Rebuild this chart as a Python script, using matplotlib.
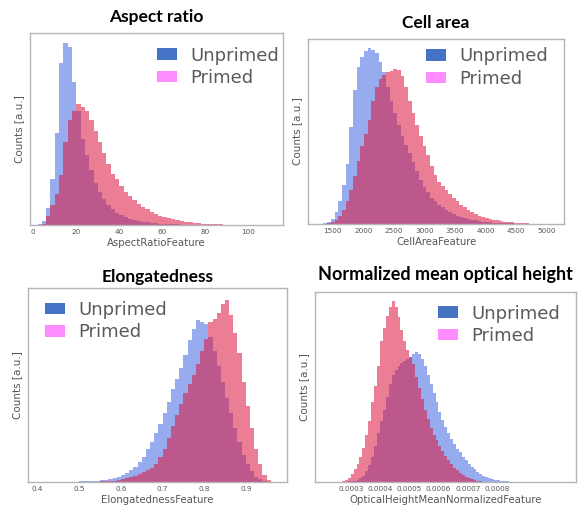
import numpy as np
import matplotlib
matplotlib.use("Agg")
import matplotlib.pyplot as plt
from matplotlib.patches import Patch
from matplotlib.ticker import FormatStrFormatter

# Histogram heights (normalised counts)
# -------------------------------------------------------------------
aspect_start, aspect_width = 2, 2
aspect_unprimed = [0.003, 0.02, 0.09, 0.25, 0.50, 0.88, 0.99, 0.97, 0.78, 0.62,
                   0.47, 0.38, 0.30, 0.23, 0.18, 0.14, 0.11, 0.085, 0.066, 0.052,
                   0.042, 0.034, 0.027, 0.022, 0.018, 0.014, 0.011, 0.009, 0.007, 0.0055,
                   0.0045, 0.0035, 0.003, 0.0025, 0.002, 0.0015, 0.0012, 0.001, 0.0008, 0.0006,
                   0.0005, 0.0004, 0.0003, 0.0002, 0.0002, 0.0001, 0.0001, 0.0, 0.0]
aspect_primed = [0.0, 0.005, 0.05, 0.11, 0.17, 0.27, 0.45, 0.57, 0.62, 0.66,
                 0.64, 0.62, 0.57, 0.51, 0.45, 0.39, 0.33, 0.28, 0.25, 0.21,
                 0.18, 0.16, 0.135, 0.115, 0.10, 0.085, 0.07, 0.06, 0.05, 0.043,
                 0.036, 0.03, 0.025, 0.021, 0.018, 0.015, 0.012, 0.01, 0.008, 0.006,
                 0.005, 0.004, 0.003, 0.002, 0.0015, 0.001, 0.001, 0.0005, 0.0005]

area_start, area_width = 1350, 60
area_unprimed = [0.003, 0.01, 0.03, 0.07, 0.13, 0.22, 0.34, 0.55, 0.76, 0.89,
                 0.95, 0.98, 1.00, 0.99, 0.97, 0.92, 0.86, 0.78, 0.70, 0.63,
                 0.56, 0.50, 0.45, 0.40, 0.35, 0.30, 0.25, 0.21, 0.18, 0.15,
                 0.13, 0.11, 0.095, 0.08, 0.068, 0.057, 0.047, 0.04, 0.034, 0.028,
                 0.024, 0.02, 0.016, 0.013, 0.011, 0.009, 0.007, 0.006, 0.005, 0.004,
                 0.003, 0.003, 0.002, 0.002, 0.001, 0.001, 0.001, 0.0005, 0.0005, 0.0]
area_primed = [0.0, 0.003, 0.01, 0.025, 0.045, 0.08, 0.13, 0.19, 0.27, 0.36,
               0.44, 0.51, 0.59, 0.70, 0.78, 0.82, 0.845, 0.86, 0.87, 0.878,
               0.875, 0.84, 0.78, 0.70, 0.63, 0.56, 0.50, 0.44, 0.39, 0.33,
               0.28, 0.24, 0.215, 0.19, 0.17, 0.15, 0.13, 0.11, 0.095, 0.08,
               0.066, 0.055, 0.047, 0.04, 0.034, 0.029, 0.024, 0.02, 0.016, 0.013,
               0.011, 0.009, 0.007, 0.005, 0.004, 0.003, 0.002, 0.001, 0.001, 0.0005]

elong_start, elong_width = 0.40, 0.01
elong_unprimed = [0.0005, 0.0005, 0.0005, 0.001, 0.001, 0.001, 0.001, 0.002, 0.002, 0.002,
                  0.003, 0.003, 0.004, 0.005, 0.007, 0.009, 0.012, 0.016, 0.022, 0.03,
                  0.04, 0.05, 0.065, 0.085, 0.11, 0.14, 0.18, 0.22, 0.27, 0.32,
                  0.38, 0.44, 0.51, 0.57, 0.63, 0.70, 0.78, 0.84, 0.89, 0.88,
                  0.87, 0.80, 0.72, 0.64, 0.55, 0.46, 0.38, 0.30, 0.22, 0.15,
                  0.10, 0.06, 0.03, 0.015, 0.005, 0.001]
elong_primed = [0.0, 0.0, 0.0, 0.0, 0.0, 0.0, 0.0, 0.0, 0.0, 0.0,
                0.0005, 0.0005, 0.001, 0.001, 0.002, 0.003, 0.004, 0.006, 0.008, 0.011,
                0.015, 0.02, 0.027, 0.035, 0.044, 0.055, 0.065, 0.075, 0.10, 0.14,
                0.18, 0.24, 0.31, 0.37, 0.43, 0.49, 0.54, 0.59, 0.65, 0.72,
                0.79, 0.88, 0.90, 0.93, 0.98, 1.00, 0.92, 0.82, 0.71, 0.55,
                0.42, 0.30, 0.18, 0.10, 0.04, 0.01]

height_start, height_width = 0.00025, 0.00001
height_unprimed = [0.0, 0.0005, 0.001, 0.002, 0.003, 0.005, 0.008, 0.012, 0.02, 0.035,
                   0.06, 0.095, 0.14, 0.20, 0.27, 0.34, 0.40, 0.47, 0.54, 0.59,
                   0.62, 0.64, 0.66, 0.67, 0.68, 0.69, 0.71, 0.72, 0.71, 0.68,
                   0.64, 0.59, 0.54, 0.49, 0.44, 0.39, 0.345, 0.305, 0.27, 0.24,
                   0.21, 0.185, 0.165, 0.14, 0.12, 0.10, 0.085, 0.07, 0.057, 0.046,
                   0.036, 0.028, 0.022, 0.016, 0.012, 0.009, 0.007, 0.005, 0.003, 0.002]
height_primed = [0.0, 0.002, 0.005, 0.013, 0.025, 0.045, 0.07, 0.10, 0.14, 0.19,
                 0.26, 0.34, 0.44, 0.53, 0.64, 0.78, 0.85, 0.92, 0.97, 1.00,
                 0.97, 0.91, 0.84, 0.78, 0.73, 0.69, 0.65, 0.58, 0.52, 0.46,
                 0.40, 0.35, 0.30, 0.26, 0.23, 0.20, 0.17, 0.145, 0.12, 0.10,
                 0.08, 0.065, 0.05, 0.04, 0.03, 0.022, 0.016, 0.011, 0.007, 0.004,
                 0.002, 0.001, 0.001, 0.0005, 0.0005, 0.0, 0.0, 0.0, 0.0, 0.0]

titles = ["Aspect ratio", "Cell area", "Elongatedness", "Normalized mean optical height"]
xlabels = ["AspectRatioFeature", "CellAreaFeature", "ElongatednessFeature",
           "OpticalHeightMeanNormalizedFeature"]
xticks = [[0, 20, 40, 60, 80, 100],
          [1500, 2000, 2500, 3000, 3500, 4000, 4500, 5000],
          [0.4, 0.5, 0.6, 0.7, 0.8, 0.9],
          [0.0003, 0.0004, 0.0005, 0.0006, 0.0007, 0.0008]]
tick_fmt = ["%d", "%d", "%.1f", "%.4f"]

panels = [
    (aspect_start, aspect_width, aspect_unprimed, aspect_primed),
    (area_start, area_width, area_unprimed, area_primed),
    (elong_start, elong_width, elong_unprimed, elong_primed),
    (height_start, height_width, height_unprimed, height_primed),
]

# layout (figure fractions), limits, legend anchors
# -------------------------------------------------------------------
ax_rects = [[0.0513, 0.558, 0.4325, 0.377],
            [0.5265, 0.560, 0.4376, 0.3635],
            [0.0479, 0.053, 0.4427, 0.381],
            [0.5385, 0.053, 0.446, 0.373]]
xlims = [(-1.5, 116), (1097, 5280), (0.3767, 0.999), (0.000178, 0.00107)]
ylims = [1.045, 1.05, 1.068, 1.05]
title_pad = [8.2, 8.0, 4.5, 8.5]
title_size = [12.5, 12.5, 12.5, 13.0]
leg_anchor = [(0.502, 0.93), (0.461, 0.955), (0.066, 0.935), (0.471, 0.935)]

BLUE = "royalblue"
PINK = "crimson"

fig = plt.figure(figsize=(5.85, 5.09), dpi=100)

for i, (start, width, unprimed, primed) in enumerate(panels):
    ax = fig.add_axes(ax_rects[i])
    edges = start + width * np.arange(len(unprimed) + 1)
    for vals, col in [(unprimed, BLUE), (primed, PINK)]:
        ax.fill_between(edges, np.append(vals, vals[-1]), step="post",
                        color=col, alpha=0.55, linewidth=0, antialiased=False)

    ax.set_xlim(*xlims[i])
    ax.set_ylim(0, ylims[i])
    ax.set_yticks([])
    ax.set_xticks(xticks[i])
    ax.xaxis.set_major_formatter(FormatStrFormatter(tick_fmt[i]))
    ax.tick_params(axis="x", length=0, pad=3, labelsize=5.2, labelcolor="#555555")
    for s in ax.spines.values():
        s.set_color("#b5b5b5")
        s.set_linewidth(1.0)

    ax.set_xlabel(xlabels[i], fontsize=7.3, color="#555555", labelpad=2)
    ax.set_ylabel("Counts [a.u.]", fontsize=7.5, color="#555555", labelpad=4)
    ax.set_title(titles[i], fontsize=title_size[i], fontweight="bold", family="Lato",
                 pad=title_pad[i])

    handles = [Patch(facecolor="#4472c4", edgecolor="none"),
               Patch(facecolor="#ff8cff", edgecolor="none")]
    ax.legend(handles, ["Unprimed", "Primed"], loc="upper left",
              bbox_to_anchor=leg_anchor[i], frameon=False, fontsize=13,
              labelcolor="#5a5a5a", borderpad=0, borderaxespad=0,
              handlelength=1.1, handleheight=0.6, handletextpad=0.75,
              labelspacing=0.25)

fig.savefig("out.png", dpi=100)
